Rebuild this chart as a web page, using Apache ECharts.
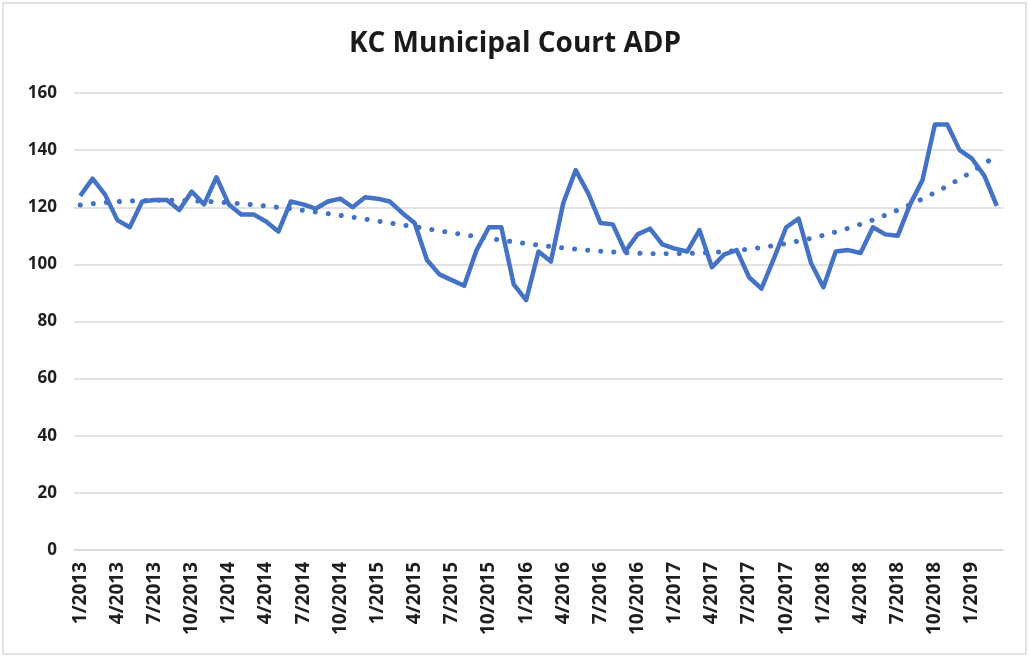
<!DOCTYPE html>
<html>
<head>
<meta charset="utf-8">
<title>KC Municipal Court ADP</title>
<script src="https://cdn.jsdelivr.net/npm/echarts@6/dist/echarts.min.js"></script>
<style>
  html, body { margin: 0; padding: 0; background: #fff; }
  #chart { width: 1030px; height: 658px; }
</style>
</head>
<body>
<div id="chart"></div>
<script>
// monthly average daily population, 1/2013 .. 3/2019
var months = [
  '1/2013','2/2013','3/2013','4/2013','5/2013','6/2013','7/2013','8/2013','9/2013','10/2013','11/2013','12/2013',
  '1/2014','2/2014','3/2014','4/2014','5/2014','6/2014','7/2014','8/2014','9/2014','10/2014','11/2014','12/2014',
  '1/2015','2/2015','3/2015','4/2015','5/2015','6/2015','7/2015','8/2015','9/2015','10/2015','11/2015','12/2015',
  '1/2016','2/2016','3/2016','4/2016','5/2016','6/2016','7/2016','8/2016','9/2016','10/2016','11/2016','12/2016',
  '1/2017','2/2017','3/2017','4/2017','5/2017','6/2017','7/2017','8/2017','9/2017','10/2017','11/2017','12/2017',
  '1/2018','2/2018','3/2018','4/2018','5/2018','6/2018','7/2018','8/2018','9/2018','10/2018','11/2018','12/2018',
  '1/2019','2/2019','3/2019'
];
var adp = [
  124, 130, 124.5, 115.5, 113, 122, 122.5, 122.5, 119, 125.5, 121, 130.5,
  121, 117.5, 117.5, 115, 111.5, 122, 121, 119.5, 122, 123, 120, 123.5,
  123, 122, 118, 114.5, 101.5, 96.5, 94.5, 92.5, 105, 113, 113, 93,
  87.5, 104.5, 101, 121.5, 133, 125, 114.5, 114, 104.5, 110.5, 112.5, 107,
  105.5, 104.5, 112, 99, 103.5, 105, 95.5, 91.5, 102, 113, 116, 100.5,
  92, 104.5, 105, 104, 113, 110.5, 110, 121, 129.5, 149, 149, 140,
  137, 131, 120.5
];
var yTicks = { min: 0, max: 160, step: 20 };

// polynomial (order 3) least squares trendline, like the spreadsheet one
function polyTrend(vals, order) {
  var n = vals.length, m = order + 1;
  var mid = (n - 1) / 2;
  var A = [], b = [];
  for (var r = 0; r < m; r++) { A.push(new Array(m).fill(0)); b.push(0); }
  for (var i = 0; i < n; i++) {
    var t = (i - mid) / mid;
    for (var r = 0; r < m; r++) {
      b[r] += Math.pow(t, r) * vals[i];
      for (var c = 0; c < m; c++) A[r][c] += Math.pow(t, r + c);
    }
  }
  // gaussian elimination
  for (var k = 0; k < m; k++) {
    for (var r = k + 1; r < m; r++) {
      var f = A[r][k] / A[k][k];
      for (var c = k; c < m; c++) A[r][c] -= f * A[k][c];
      b[r] -= f * b[k];
    }
  }
  var coef = new Array(m).fill(0);
  for (var k = m - 1; k >= 0; k--) {
    var s = b[k];
    for (var c = k + 1; c < m; c++) s -= A[k][c] * coef[c];
    coef[k] = s / A[k][k];
  }
  var out = [];
  for (var i = 0; i < n; i++) {
    var t = (i - mid) / mid, v = 0;
    for (var k = 0; k < m; k++) v += coef[k] * Math.pow(t, k);
    out.push(+v.toFixed(2));
  }
  return out;
}
var trend = polyTrend(adp, 3);

var blue = '#4472C4';
var labelColor = '#1f1f1f';

var myChart = echarts.init(document.getElementById('chart'));
myChart.setOption({
  animation: false,
  title: {
    text: 'KC Municipal Court ADP',
    left: 'center',
    top: 25,
    textStyle: { fontFamily: 'Open Sans', fontSize: 28, fontWeight: 'bold', color: '#1a1a1a' }
  },
  graphic: [{
    type: 'rect',
    shape: { x: 3, y: 3, width: 1023, height: 651 },
    style: { fill: 'none', stroke: '#d9d9d9', lineWidth: 1.5 }
  }],
  grid: { left: 74, right: 27, top: 93, bottom: 108 },
  xAxis: {
    type: 'category',
    data: months,
    boundaryGap: true,
    axisLine: { lineStyle: { color: '#d9d9d9', width: 1.5 } },
    axisTick: { show: false },
    axisLabel: {
      interval: 2,
      rotate: 90,
      margin: 12,
      color: labelColor,
      fontFamily: 'Open Sans',
      fontWeight: 'bold',
      fontSize: 19
    },
    splitLine: { show: false }
  },
  yAxis: {
    type: 'value',
    min: yTicks.min,
    max: yTicks.max,
    interval: yTicks.step,
    axisLine: { show: false },
    axisTick: { show: false },
    axisLabel: {
      margin: 17,
      color: labelColor,
      fontFamily: 'Open Sans',
      fontWeight: 'bold',
      fontSize: 17
    },
    splitLine: { lineStyle: { color: '#d9d9d9', width: 1.5 } }
  },
  series: [
    {
      name: 'Trend',
      type: 'line',
      data: trend,
      showSymbol: false,
      silent: true,
      z: 1,
      lineStyle: { color: blue, width: 5, type: [0.1, 13], cap: 'round' }
    },
    {
      name: 'ADP',
      type: 'line',
      data: adp,
      showSymbol: false,
      z: 2,
      lineStyle: { color: blue, width: 4.5, join: 'round' }
    }
  ]
});
</script>
</body>
</html>
